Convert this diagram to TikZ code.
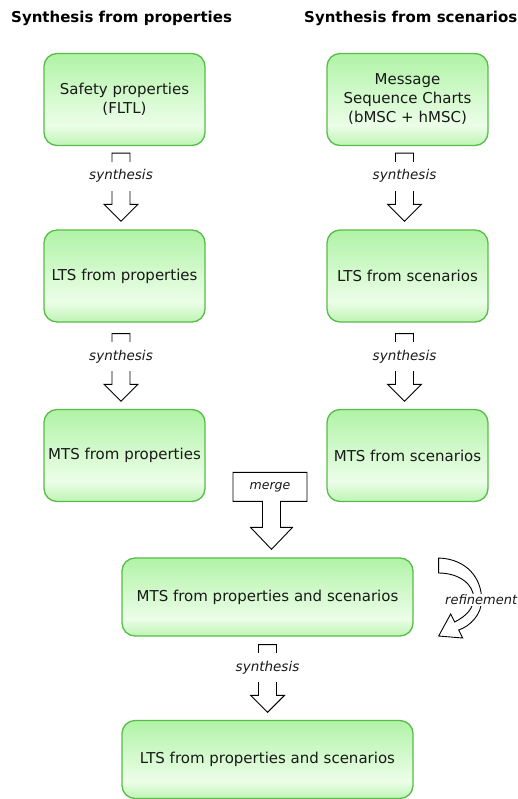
\documentclass[tikz,border=0pt]{standalone}
\usepackage{fontspec}
\setmainfont{DejaVu Sans}
\usetikzlibrary{calc}

\definecolor{boxline}{RGB}{88,188,72}
\definecolor{boxtop}{RGB}{176,243,166}
\definecolor{boxmid}{RGB}{236,254,232}
\definecolor{boxbot}{RGB}{190,244,180}
\definecolor{ink}{RGB}{25,25,25}

% green fill: strong at the top, palest low down, slightly green at the bottom edge
\pgfdeclareverticalshading{stageshade}{100bp}{%
  color(0bp)=(boxbot); color(25bp)=(boxbot); color(36bp)=(boxmid);
  color(75bp)=(boxtop); color(100bp)=(boxtop)}

% hollow block arrow: #1 = top of the shaft, #2 = tip, #3 = label
\newcommand{\synarrow}[3]{%
  \coordinate (hb) at ($(#2)+(0,-17)$);
  \draw[blockline] ($(#1)+(-9,0)$) -- ($(#1)+(9,0)$) -- ($(hb)+(9,0)$)
    -- ($(hb)+(17,0)$) -- (#2) -- ($(hb)+(-17,0)$) -- ($(hb)+(-9,0)$) -- cycle;
  \node[steplabel] at ($(#1)!0.5!(hb)+(0,-2.5)$) {#3};
}

\begin{document}
\begin{tikzpicture}[x=1pt,y=-1pt,
  stage/.style={draw=boxline, line width=1.3pt, rounded corners=13pt,
    shading=stageshade, text=ink, align=center,
    font=\fontsize{15}{19}\selectfont, inner sep=0pt},
  smallstage/.style={stage, minimum width=161pt, minimum height=92pt},
  widestage/.style={stage, minimum width=291pt, minimum height=78pt},
  heading/.style={anchor=west, inner sep=0pt, text=black,
    font=\fontsize{15}{18}\selectfont\bfseries},
  blockline/.style={draw=black, line width=0.9pt, fill=white, line join=miter},
  steplabel/.style={fill=white, inner sep=0pt, minimum height=29pt,
    font=\fontsize{13.5}{16}\selectfont\itshape, text=ink},
]
\useasboundingbox (0,0) rectangle (518,799);

% column headings
\node[heading] (hprop) at (11,18) {Synthesis from properties};
\node[heading] (hscen) at (304,18) {Synthesis from scenarios};

% stages
\node[smallstage] (safety) at (124.5,99.5) {Safety properties\\(FLTL)};
\node[smallstage] (msc)    at (407.5,99.5) {Message\\Sequence Charts\\(bMSC + hMSC)};
\node[smallstage] (ltsp)   at (124.5,276)  {LTS from properties};
\node[smallstage] (ltss)   at (407.5,276)  {LTS from scenarios};
\node[smallstage] (mtsp)   at (124.5,455.5) {MTS from properties};
\node[smallstage] (mtss)   at (407.5,455.5) {MTS from scenarios};
\node[widestage]  (mtsall) at (267.5,597)  {MTS from properties and scenarios};
\node[widestage]  (ltsall) at (267.5,759.5) {LTS from properties and scenarios};

% synthesis steps
\coordinate (s1) at ($(safety.south)+(-3.5,7)$);
\coordinate (t1) at ($(ltsp.north)+(-3.5,-8)$);
\synarrow{s1}{t1}{synthesis}
\coordinate (s2) at ($(ltsp.south)+(-3.5,11)$);
\coordinate (t2) at ($(mtsp.north)+(-3.5,-7.5)$);
\synarrow{s2}{t2}{synthesis}
\coordinate (s3) at ($(msc.south)+(-3,7)$);
\coordinate (t3) at ($(ltss.north)+(-3,-8)$);
\synarrow{s3}{t3}{synthesis}
\coordinate (s4) at ($(ltss.south)+(-3,11)$);
\coordinate (t4) at ($(mtss.north)+(-3,-7.5)$);
\synarrow{s4}{t4}{synthesis}
\coordinate (s5) at ($(mtsall.south)+(0,8)$);
\coordinate (t5) at ($(ltsall.north)+(0,-7.5)$);
\synarrow{s5}{t5}{synthesis}

% merge callout arrow
\coordinate (mtip) at ($(mtsall.north)+(4,-8)$);
\begin{scope}[shift={(mtip)}]
  \draw[blockline] (-38.5,-77) -- (35.5,-77) -- (35.5,-48) -- (9,-48) -- (9,-22)
    -- (21,-22) -- (0,0) -- (-21,-22) -- (-9,-22) -- (-9,-48) -- (-38.5,-48) -- cycle;
  \node[inner sep=0pt, text=ink, font=\fontsize{12.5}{15}\selectfont\itshape]
    (mergelbl) at (-1.5,-62) {merge};
\end{scope}

% refinement loop
\begin{scope}[shift={(mtsall.east)}]
  \draw[blockline] (25,-39) .. controls (53,-38) and (68,-19) .. (68,3)
    .. controls (68,17) and (57,29) .. (45,33) -- (49,41) -- (25,39) -- (37,17) -- (41,25)
    .. controls (53,19) and (60,11) .. (60,1)
    .. controls (60,-13) and (45,-24) .. (25,-24) -- cycle;
  \node[fill=white, inner sep=1pt, text=ink, font=\fontsize{13}{16}\selectfont\itshape]
    (reflbl) at (67.5,3) {refinement};
\end{scope}
\end{tikzpicture}
\end{document}
